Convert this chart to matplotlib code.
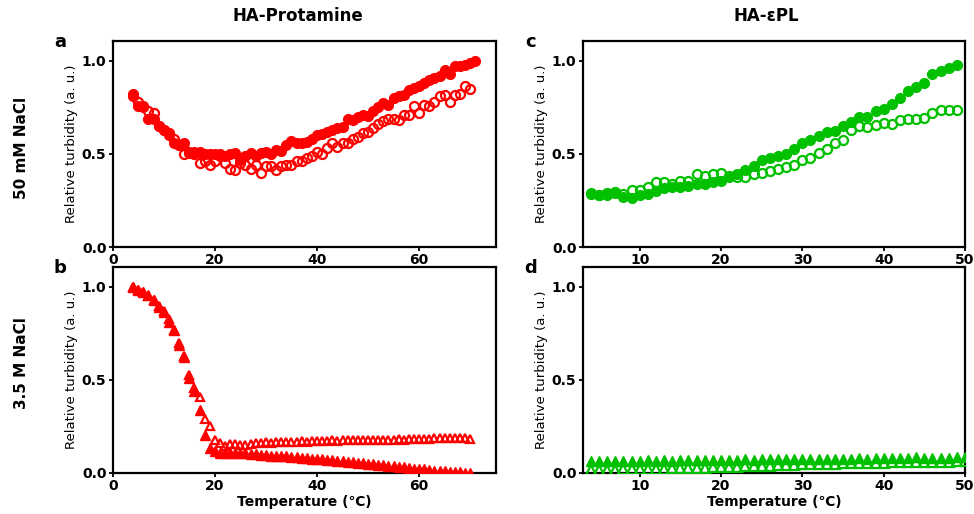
import matplotlib
matplotlib.use("Agg")
import matplotlib.pyplot as plt
import numpy as np

plt.rcParams['font.family'] = ['DejaVu Sans']

RED = '#ff0000'
GREEN = '#00c000'

# ---------- Panel a: HA-Protamine, 50 mM NaCl ----------
a_filled_T = list(range(4, 72))
a_filled_v = [0.82, 0.76, 0.75, 0.69, 0.69, 0.65, 0.63, 0.60, 0.56, 0.55, 0.56, 0.51,
              0.51, 0.51, 0.50, 0.50, 0.50, 0.50, 0.49, 0.50, 0.505, 0.47, 0.49, 0.505,
              0.49, 0.505, 0.51, 0.50, 0.52, 0.515, 0.55, 0.57, 0.56, 0.56, 0.565, 0.58,
              0.60, 0.605, 0.62, 0.63, 0.64, 0.645, 0.69, 0.685, 0.70, 0.71, 0.705, 0.73,
              0.75, 0.775, 0.765, 0.80, 0.81, 0.815, 0.845, 0.855, 0.865, 0.88, 0.90, 0.91,
              0.92, 0.95, 0.93, 0.97, 0.975, 0.98, 0.99, 1.00]
a_open_T = list(range(4, 71))
a_open_v = [0.81, 0.78, 0.76, 0.73, 0.72, 0.65, 0.63, 0.61, 0.58, 0.55, 0.50, 0.505,
            0.50, 0.45, 0.46, 0.44, 0.46, 0.49, 0.45, 0.42, 0.415, 0.45, 0.44, 0.42,
            0.44, 0.40, 0.435, 0.435, 0.415, 0.435, 0.44, 0.44, 0.46, 0.46, 0.48, 0.49,
            0.51, 0.50, 0.53, 0.56, 0.54, 0.56, 0.56, 0.58, 0.59, 0.61, 0.62, 0.64,
            0.66, 0.675, 0.69, 0.69, 0.685, 0.71, 0.71, 0.76, 0.72, 0.765, 0.76, 0.78,
            0.81, 0.815, 0.78, 0.815, 0.82, 0.865, 0.85]

# ---------- Panel b: HA-Protamine, 3.5 M NaCl ----------
b_filled_T = list(range(4, 71))
b_filled_v = [1.00, 0.986, 0.973, 0.955, 0.93, 0.89, 0.866, 0.81, 0.77, 0.69, 0.625,
              0.51, 0.44, 0.34, 0.205, 0.134, 0.116, 0.11, 0.11, 0.11, 0.107, 0.107,
              0.105, 0.102, 0.100, 0.098, 0.095, 0.093, 0.092, 0.090, 0.089, 0.087,
              0.085, 0.082, 0.080, 0.077, 0.075, 0.073, 0.070, 0.068, 0.066, 0.063,
              0.061, 0.058, 0.055, 0.052, 0.050, 0.047, 0.044, 0.041, 0.038, 0.036,
              0.033, 0.030, 0.027, 0.024, 0.021, 0.019, 0.016, 0.013, 0.010, 0.009,
              0.007, 0.005, 0.003, 0.002, 0.000]
b_open_T = list(range(4, 71))
b_open_v = [1.00, 0.985, 0.97, 0.95, 0.93, 0.90, 0.87, 0.83, 0.77, 0.70, 0.63, 0.525,
            0.455, 0.41, 0.29, 0.25, 0.175, 0.16, 0.145, 0.155, 0.155, 0.150, 0.150,
            0.155, 0.160, 0.160, 0.165, 0.163, 0.165, 0.165, 0.168, 0.165, 0.168,
            0.170, 0.168, 0.170, 0.172, 0.170, 0.172, 0.175, 0.173, 0.175, 0.175,
            0.178, 0.175, 0.178, 0.180, 0.178, 0.180, 0.180, 0.178, 0.180, 0.182,
            0.180, 0.183, 0.182, 0.185, 0.183, 0.185, 0.187, 0.188, 0.186, 0.188,
            0.190, 0.188, 0.190, 0.185]

# ---------- Panel c: HA-ePL, 50 mM NaCl ----------
c_filled_T = list(range(4, 50))
c_filled_v = [0.29, 0.277, 0.277, 0.29, 0.268, 0.263, 0.277, 0.286, 0.30, 0.318, 0.325,
              0.325, 0.33, 0.336, 0.34, 0.348, 0.354, 0.375, 0.39, 0.414, 0.437, 0.468,
              0.478, 0.49, 0.50, 0.527, 0.557, 0.575, 0.598, 0.616, 0.621, 0.652, 0.67,
              0.70, 0.696, 0.729, 0.741, 0.771, 0.80, 0.839, 0.86, 0.879, 0.929, 0.946,
              0.964, 0.98]
c_open_T = list(range(4, 50))
c_open_v = [0.286, 0.28, 0.29, 0.295, 0.286, 0.307, 0.304, 0.32, 0.348, 0.348, 0.336,
            0.357, 0.357, 0.39, 0.384, 0.39, 0.40, 0.379, 0.375, 0.375, 0.39, 0.396,
            0.41, 0.42, 0.43, 0.443, 0.468, 0.478, 0.504, 0.527, 0.557, 0.575, 0.629,
            0.652, 0.646, 0.657, 0.664, 0.66, 0.682, 0.6875, 0.6875, 0.693, 0.718,
            0.736, 0.736, 0.736]

# ---------- Panel d: HA-ePL, 3.5 M NaCl ----------
d_filled_T = list(range(4, 51))
d_filled_v = [0.066, 0.064, 0.062, 0.066, 0.064, 0.066, 0.067, 0.068, 0.066, 0.068,
              0.067, 0.069, 0.068, 0.070, 0.069, 0.071, 0.070, 0.072, 0.071, 0.073,
              0.072, 0.074, 0.073, 0.074, 0.073, 0.075, 0.074, 0.076, 0.075, 0.077,
              0.076, 0.077, 0.076, 0.078, 0.077, 0.079, 0.078, 0.080, 0.079, 0.081,
              0.086, 0.080, 0.082, 0.083, 0.082, 0.084, 0.086]
d_open_T = list(range(4, 51))
d_open_v = [0.014, 0.014, 0.016, 0.018, 0.019, 0.020, 0.021, 0.022, 0.023, 0.024,
            0.025, 0.026, 0.027, 0.028, 0.029, 0.030, 0.031, 0.032, 0.034, 0.036,
            0.037, 0.039, 0.040, 0.042, 0.043, 0.045, 0.046, 0.048, 0.049, 0.050,
            0.051, 0.052, 0.052, 0.053, 0.054, 0.055, 0.056, 0.057, 0.058, 0.059,
            0.059, 0.060, 0.060, 0.061, 0.061, 0.062, 0.0625]

col_titles = ['HA-Protamine', 'HA-\u03b5PL']
row_titles = ['50 mM NaCl', '3.5 M NaCl']
panel_letters = ['a', 'b', 'c', 'd']
ylabel = 'Relative turbidity (a. u.)'
xlabel = 'Temperature (\u2103)'

W, H = 974, 514
fig = plt.figure(figsize=(W / 100, H / 100), dpi=100)


def px_axes(left, top, right, bottom):
    return fig.add_axes([left / W, 1 - bottom / H, (right - left) / W, (bottom - top) / H])


ax_a = px_axes(112.7, 41, 495.7, 247)
ax_b = px_axes(112.7, 267, 495.7, 473)
ax_c = px_axes(582.7, 41, 965, 247)
ax_d = px_axes(582.7, 267, 965, 473)

ms = 7.0
mew = 1.6

ax_a.plot(a_filled_T, a_filled_v, 'o', color=RED, ms=ms, mec=RED, zorder=3)
ax_a.plot(a_open_T, a_open_v, 'o', mfc='none', mec=RED, ms=ms - 0.5, mew=mew, zorder=3)
ax_b.plot(b_filled_T, b_filled_v, '^', color=RED, ms=ms - 0.5, mec=RED, zorder=3)
ax_b.plot(b_open_T, b_open_v, '^', mfc='none', mec=RED, ms=ms - 1, mew=mew, zorder=3)
ax_c.plot(c_filled_T, c_filled_v, 'o', color=GREEN, ms=ms, mec=GREEN, zorder=3)
ax_c.plot(c_open_T, c_open_v, 'o', mfc='none', mec=GREEN, ms=ms - 0.5, mew=mew, zorder=3)
ax_d.plot(d_filled_T, d_filled_v, '^', color=GREEN, ms=ms, mec=GREEN, zorder=3)
ax_d.plot(d_open_T, d_open_v, '^', mfc='none', mec=GREEN, ms=ms - 0.5, mew=mew, zorder=3)

for ax in (ax_a, ax_b):
    ax.set_xlim(0, 75)
    ax.set_xticks([0, 20, 40, 60])
for ax in (ax_c, ax_d):
    ax.set_xlim(3, 50)
    ax.set_xticks([10, 20, 30, 40, 50])

for ax in (ax_a, ax_b, ax_c, ax_d):
    ax.set_ylim(0, 1.107)
    ax.set_yticks([0.0, 0.5, 1.0])
    ax.set_yticklabels(['0.0', '0.5', '1.0'])
    for s in ax.spines.values():
        s.set_linewidth(1.6)
    ax.tick_params(direction='out', length=3, width=1.3, labelsize=10, pad=1.5)
    for lbl in ax.get_xticklabels() + ax.get_yticklabels():
        lbl.set_fontweight('bold')
    ax.set_ylabel(ylabel, fontsize=9.5, labelpad=3)

for ax in (ax_b, ax_d):
    ax.set_xlabel(xlabel, fontsize=10, fontweight='bold', labelpad=1)

fig.text(298 / W, 1 - 16 / H, col_titles[0], ha='center', va='center', fontsize=12, fontweight='bold')
fig.text(766 / W, 1 - 16 / H, col_titles[1], ha='center', va='center', fontsize=12, fontweight='bold')
fig.text(22 / W, 1 - 148 / H, row_titles[0], ha='center', va='center', fontsize=11,
         fontweight='bold', rotation=90)
fig.text(22 / W, 1 - 363 / H, row_titles[1], ha='center', va='center', fontsize=11,
         fontweight='bold', rotation=90)

for lt, (x, y) in zip(panel_letters, [(60, 42), (60, 268), (531, 42), (531, 268)]):
    fig.text(x / W, 1 - y / H, lt, ha='center', va='center', fontsize=13, fontweight='bold')

fig.savefig('out.png', dpi=100)
